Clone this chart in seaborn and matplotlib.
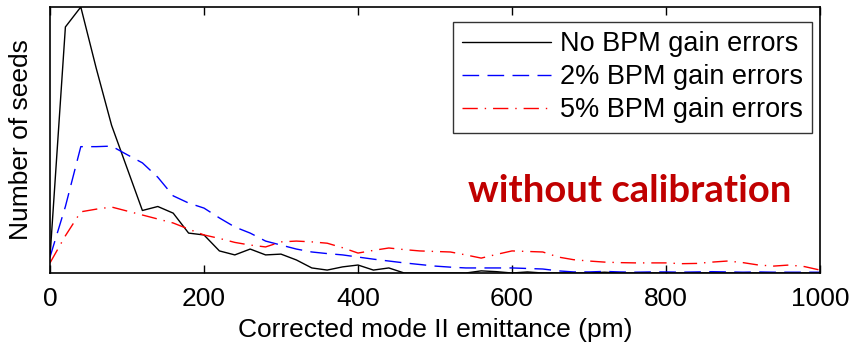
import numpy as np
import pandas as pd
import matplotlib
matplotlib.use("Agg")
import matplotlib.pyplot as plt
import seaborn as sns

# emittance bins (pm)
emittance = np.arange(0, 1001, 20)

# relative number of seeds per bin
no_err = [6, 92.5, 100, 77, 55.5, 39.5, 23.5, 25, 22.5, 15,
          14.3, 8.3, 6.8, 9, 6.8, 7.1, 4.9, 1.9, 1.1, 2.3,
          3, 1.1, 1.9, 0, 0, 0, 0, 0, 0.8, 0.5,
          0, 0.4, 0, 0, 0, 0, 0.3, 0, 0, 0,
          0, 0, 0, 0, 0, 0, 0, 0, 0, 0, 0]
err_2pct = [6, 25, 47.5, 47.5, 47.7, 44.5, 41.4, 36, 29, 26.3,
            24.4, 20.7, 17.3, 15, 12, 10.5, 9, 7.9, 7.3, 6.8,
            6, 5.2, 4.5, 3.8, 3.2, 2.6, 2.2, 1.9, 1.9, 1.9,
            1.9, 1.7, 1.5, 0.8, 0.4, 0.4, 0.6, 0.4, 0.3, 0.4,
            0.4, 0.3, 0.4, 0.5, 0.4, 0.3, 0.4, 0.3, 0.3, 0.3, 0.3]
err_5pct = [3.8, 14, 23, 24, 24.8, 23.3, 21.8, 20.3, 18.8, 16.5,
            14.3, 13, 11.5, 10.5, 9.8, 11.7, 12, 11.7, 11.2, 9.5,
            7.5, 8.5, 9.4, 8.8, 8.3, 8.1, 7.9, 6.8, 5.6, 7,
            8.3, 8.1, 7.9, 6, 5, 4.5, 4.1, 3.9, 3.8, 3.8,
            3.8, 3.5, 3.6, 4.1, 4.5, 3.9, 3.0, 2.6, 3.0, 2.4, 1.1]

labels = ["No BPM gain errors", "2% BPM gain errors", "5% BPM gain errors"]

df = pd.concat([
    pd.DataFrame({"emittance": emittance, "seeds": no_err, "case": labels[0]}),
    pd.DataFrame({"emittance": emittance, "seeds": err_2pct, "case": labels[1]}),
    pd.DataFrame({"emittance": emittance, "seeds": err_5pct, "case": labels[2]}),
])

sns.set_style("ticks")
plt.rcParams["font.family"] = ["Liberation Sans", "DejaVu Sans"]
plt.rcParams["text.color"] = "black"
plt.rcParams["axes.labelcolor"] = "black"
plt.rcParams["xtick.color"] = "black"

fig = plt.figure(figsize=(8.52, 3.46), dpi=100)
ax = fig.add_axes([50 / 852, 1 - 273 / 346, 770 / 852, 266 / 346])

palette = {labels[0]: "black", labels[1]: "blue", labels[2]: "red"}
sns.lineplot(data=df, x="emittance", y="seeds", hue="case", style="case",
             palette=palette, dashes={labels[0]: "", labels[1]: (12, 6), labels[2]: (11, 5, 1, 5)},
             linewidth=1.0, ax=ax)

ax.set_xlim(0, 1000)
ax.set_ylim(0, 100)
ax.set_xticks([0, 200, 400, 600, 800, 1000])
ax.set_yticks([])
ax.tick_params(axis="x", direction="in", length=6, width=1, top=True, labelsize=19, pad=10)
for side in ax.spines.values():
    side.set_linewidth(1.2)
    side.set_color("black")

ax.set_xlabel("Corrected mode II emittance (pm)", fontsize=19, labelpad=5)
ax.set_ylabel("Number of seeds", fontsize=19, labelpad=12)

leg = ax.legend(loc="upper right", fontsize=19.5, frameon=True, fancybox=False,
                edgecolor="black", handlelength=3.3, handletextpad=0.3,
                borderpad=0.35, labelspacing=0.26, borderaxespad=0,
                bbox_to_anchor=(0.9896, 0.944))
leg.get_frame().set_linewidth(1.0)
leg.set_title(None)

ax.text(0.963, 0.31, "without calibration", transform=ax.transAxes,
        ha="right", va="center", color="#c00000", fontsize=27.5,
        fontweight="bold", family=["Lato", "DejaVu Sans"])

fig.savefig("out.png", dpi=100)
